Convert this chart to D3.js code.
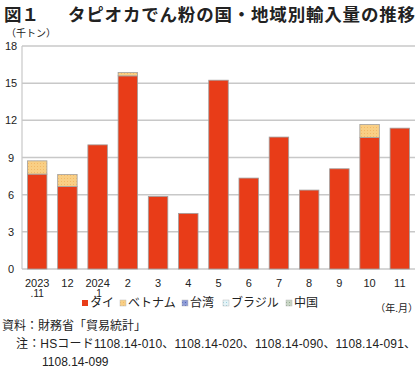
<!DOCTYPE html>
<html>
<head>
<meta charset="utf-8">
<script src="https://cdn.jsdelivr.net/npm/d3@7"></script>
<style>
  body { margin: 0; background: #fff; }
  svg { display: block; font-family: "Liberation Sans", "Noto Sans CJK JP", sans-serif; }
</style>
</head>
<body>
<svg id="chart" width="420" height="372"></svg>
<script>
// data, thousand tonnes by month
const months = ["2023.11", "12", "2024.1", "2", "3", "4", "5", "6", "7", "8", "9", "10", "11"];
const thai = [7.66, 6.66, 10.02, 15.59, 5.86, 4.49, 15.24, 7.34, 10.65, 6.37, 8.09, 10.61, 11.37];
const vietnam = [1.07, 0.97, 0, 0.27, 0, 0, 0, 0, 0, 0, 0, 1.05, 0];
const taiwan = [0, 0, 0, 0, 0, 0, 0, 0, 0, 0, 0, 0, 0];
const brazil = [0, 0, 0, 0, 0, 0, 0, 0, 0, 0, 0, 0, 0];
const china = [0, 0, 0, 0, 0, 0, 0, 0, 0, 0, 0, 0, 0];
const yTicks = [0, 3, 6, 9, 12, 15, 18];

const seriesNames = ["タイ", "ベトナム", "台湾", "ブラジル", "中国"];
const seriesColors = ["#e83c18", "#f9cf85", "#8d9bd6", "#e4f4f8", "#c9d6c6"];

const svg = d3.select("#chart");

// margins
const margin = {top: 46, right: 5, bottom: 103, left: 22};
const width = 420 - margin.left - margin.right;
const height = 372 - margin.top - margin.bottom;

const g = svg.append("g").attr("transform", `translate(${margin.left},${margin.top})`);

// dotted pattern for the light series
const defs = svg.append("defs");
function dots(id, bg, fg) {
  const p = defs.append("pattern").attr("id", id)
    .attr("width", 3).attr("height", 3).attr("patternUnits", "userSpaceOnUse");
  p.append("rect").attr("width", 3).attr("height", 3).attr("fill", bg);
  p.append("rect").attr("width", 1).attr("height", 1).attr("fill", fg);
}
dots("pat1", seriesColors[1], "#f3b866");
dots("pat2", seriesColors[2], "#5566b8");
dots("pat3", seriesColors[3], "#9fd0dc");
dots("pat4", seriesColors[4], "#93a98f");
const fills = [seriesColors[0], "url(#pat1)", "url(#pat2)", "url(#pat3)", "url(#pat4)"];

// table for stacking
const table = months.map((m, i) => ({
  month: m,
  "タイ": thai[i], "ベトナム": vietnam[i], "台湾": taiwan[i], "ブラジル": brazil[i], "中国": china[i]
}));
const stacked = d3.stack().keys(seriesNames)(table);

// scales
const x = d3.scaleBand().domain(months).range([0, width]).paddingInner(0.355).paddingOuter(0.18);
const y = d3.scaleLinear().domain([0, 18]).range([height, 0]);

// gridlines
g.selectAll(".grid").data(yTicks).enter().append("line")
  .attr("x1", 0).attr("x2", width)
  .attr("y1", d => y(d)).attr("y2", d => y(d))
  .attr("stroke", "#c8c8c8").attr("stroke-width", 1.5);

// left axis line
g.append("line").attr("x1", 0).attr("x2", 0).attr("y1", 0).attr("y2", height)
  .attr("stroke", "#c8c8c8").attr("stroke-width", 1.2);

// y tick labels
g.selectAll(".ytick").data(yTicks).enter().append("text")
  .attr("x", -11).attr("y", d => y(d) + 4)
  .attr("text-anchor", "middle").attr("font-size", 11).attr("fill", "#222")
  .text(d => d);

// bars
g.selectAll(".layer").data(stacked).enter().append("g")
  .attr("fill", (d, i) => fills[i])
  .selectAll("rect").data(d => d.filter(s => s[1] - s[0] > 0)).enter().append("rect")
  .attr("x", d => x(d.data.month))
  .attr("y", d => y(d[1]))
  .attr("width", x.bandwidth())
  .attr("height", d => y(d[0]) - y(d[1]))
  .attr("stroke", "#a0a0a0").attr("stroke-width", 0.8);

// x tick labels, two lines
const xl = g.selectAll(".xtick").data(months).enter().append("text")
  .attr("text-anchor", "middle").attr("font-size", 11).attr("fill", "#222")
  .attr("transform", d => `translate(${x(d) + x.bandwidth() / 2},${height + 18})`);
xl.each(function(d) {
  const parts = d.split(".");
  const t = d3.select(this);
  t.append("tspan").attr("x", 0).attr("dy", 0).text(parts[0]);
  if (parts[1]) t.append("tspan").attr("x", 0).attr("dy", 10).attr("font-size", 10).text("." + parts[1]);
});

// unit label
svg.append("text").attr("x", 6).attr("y", 37).attr("font-size", 10).attr("fill", "#222")
  .attr("font-family", "Noto Sans CJK JP").text("（千トン）");

// legend
const legendX = [82, 120, 182, 223, 286];
const legend = svg.selectAll(".legend").data(seriesNames).enter().append("g")
  .attr("transform", (d, i) => `translate(${legendX[i]},305)`);
legend.append("rect").attr("x", 0).attr("y", -5).attr("width", 6).attr("height", 6)
  .attr("fill", (d, i) => fills[i]).attr("stroke", (d, i) => i === 0 ? "none" : "#bbb").attr("stroke-width", 0.5);
legend.append("text").attr("x", 8).attr("y", 2).attr("font-size", 12).attr("fill", "#222")
  .attr("font-family", "Noto Sans CJK JP").text(d => d);

svg.append("text").attr("x", 418).attr("y", 312).attr("text-anchor", "end")
  .attr("font-size", 10).attr("fill", "#222").attr("font-family", "Noto Sans CJK JP").text("（年.月）");

// title
svg.append("text").attr("x", 4).attr("y", 21).attr("font-size", 17.5).attr("font-weight", "bold")
  .attr("fill", "#222").attr("font-family", "Noto Sans CJK JP").text("図１");
svg.append("text").attr("x", 68).attr("y", 21).attr("font-size", 17.5).attr("font-weight", "bold")
  .attr("fill", "#222").attr("font-family", "Noto Sans CJK JP")
  .attr("textLength", 347).attr("lengthAdjust", "spacing")
  .text("タピオカでん粉の国・地域別輸入量の推移");

// source and notes
svg.append("text").attr("x", 2).attr("y", 330).attr("font-size", 12).attr("fill", "#222").text("資料：財務省「貿易統計」");
svg.append("text").attr("x", 16).attr("y", 348).attr("font-size", 12).attr("fill", "#222")
  .attr("textLength", 400).attr("lengthAdjust", "spacing")
  .text("注：HSコード1108.14-010、1108.14-020、1108.14-090、1108.14-091、");
svg.append("text").attr("x", 42).attr("y", 366).attr("font-size", 12).attr("fill", "#222").text("1108.14-099");
</script>
</body>
</html>
